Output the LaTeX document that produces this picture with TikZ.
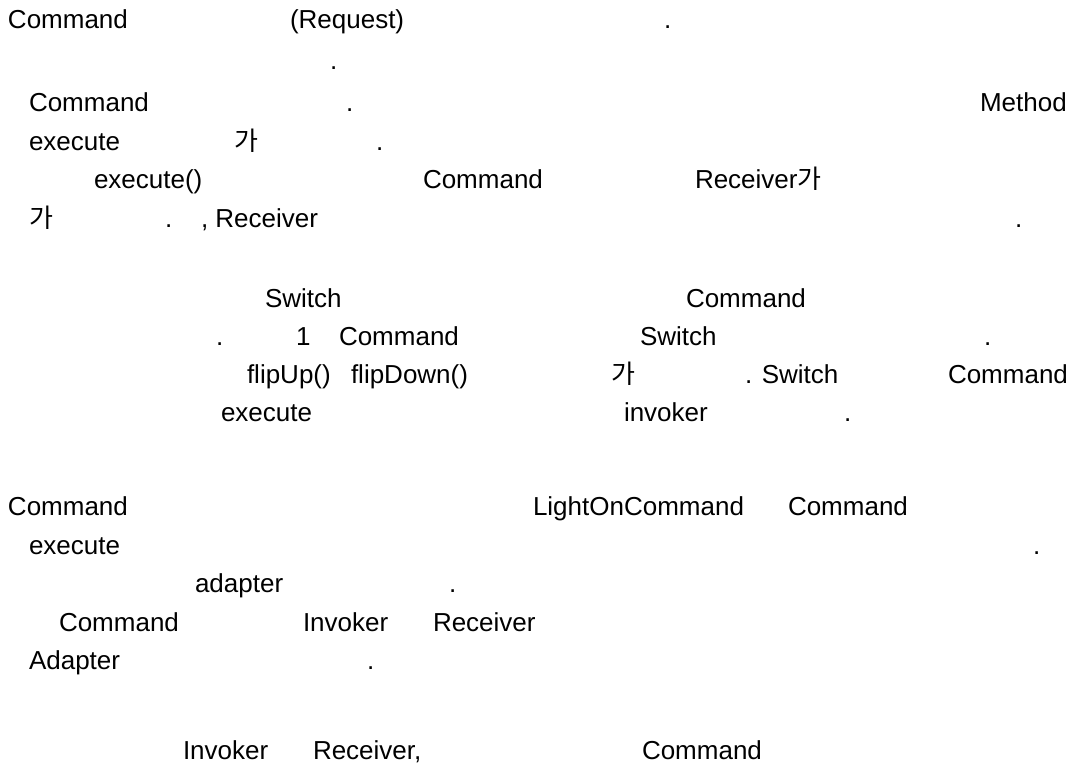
\documentclass[tikz,border=0pt]{standalone}
\usepackage{fontspec}
\setmainfont{Liberation Sans}
\newfontfamily\kr{Noto Sans CJK KR}
\tikzset{txt/.style={anchor=base west, inner sep=0pt, outer sep=0pt, font=\fontsize{26}{31}\selectfont, text=black}}
\begin{document}
\begin{tikzpicture}[x=1pt,y=-1pt]
\useasboundingbox[fill=white] (0,0) rectangle (1085,769);
% line 1
\node[txt] (a1) at (8,28) {Command};
\node[txt] (a2) at (290,28) {(Request)};
\node[txt] (a3) at (664,28) {.};
% line 2
\node[txt] (b1) at (330,69) {.};
% line 3
\node[txt] (c1) at (29,111) {Command};
\node[txt] (c2) at (346,111) {.};
\node[txt] (c3) at (980,111) {Method};
% line 4
\node[txt] (d1) at (29,150) {execute};
\node[txt] (d2) at (234,150) {\kr 가};
\node[txt] (d3) at (376,150) {.};
% line 5
\node[txt] (e1) at (94,188) {execute()};
\node[txt] (e2) at (423,188) {Command};
\node[txt] (e3) at (695,188) {Receiver{\kr 가}};
% line 6
\node[txt] (f1) at (29,227) {\kr 가};
\node[txt] (f2) at (165,227) {.};
\node[txt] (f3) at (201,227) {, Receiver};
\node[txt] (f4) at (1015,227) {.};
% line 7
\node[txt] (g1) at (265,307) {Switch};
\node[txt] (g2) at (686,307) {Command};
% line 8
\node[txt] (h1) at (216,345) {.};
\node[txt] (h2) at (296,345) {1};
\node[txt] (h3) at (339,345) {Command};
\node[txt] (h4) at (640,345) {Switch};
\node[txt] (h5) at (984,345) {.};
% line 9
\node[txt] (i1) at (247,383) {flipUp()};
\node[txt] (i2) at (351,383) {flipDown()};
\node[txt] (i3) at (611,383) {\kr 가};
\node[txt] (i4) at (745,383) {. Switch};
\node[txt] (i5) at (948,383) {Command};
% line 10
\node[txt] (j1) at (221,421) {execute};
\node[txt] (j2) at (624,421) {invoker};
\node[txt] (j3) at (844,421) {.};
% line 11
\node[txt] (k1) at (8,515) {Command};
\node[txt] (k2) at (533,515) {LightOnCommand};
\node[txt] (k3) at (788,515) {Command};
% line 12
\node[txt] (l1) at (29,554) {execute};
\node[txt] (l2) at (1033,554) {.};
% line 13
\node[txt] (m1) at (195,592) {adapter};
\node[txt] (m2) at (449,592) {.};
% line 14
\node[txt] (n1) at (59,631) {Command};
\node[txt] (n2) at (303,631) {Invoker};
\node[txt] (n3) at (433,631) {Receiver};
% line 15
\node[txt] (o1) at (29,669) {Adapter};
\node[txt] (o2) at (367,669) {.};
% line 16
\node[txt] (p1) at (183,759) {Invoker};
\node[txt] (p2) at (313,759) {Receiver,};
\node[txt] (p3) at (642,759) {Command};
\end{tikzpicture}
\end{document}
